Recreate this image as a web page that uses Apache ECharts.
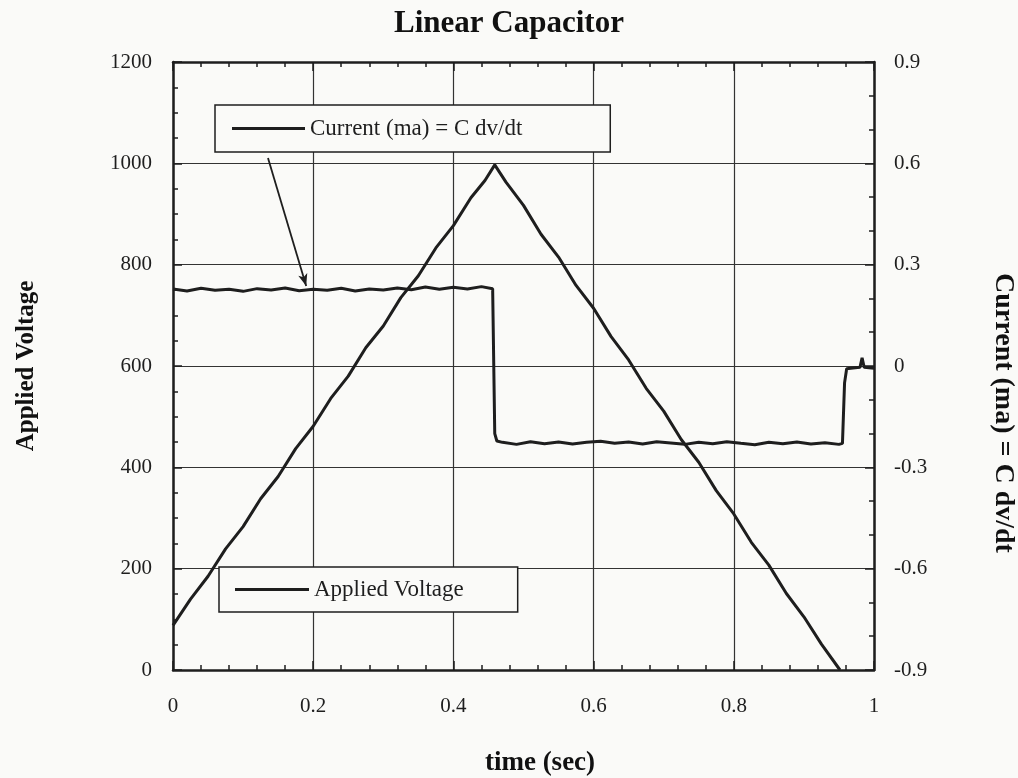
<!DOCTYPE html>
<html>
<head>
<meta charset="utf-8">
<script src="https://cdn.jsdelivr.net/npm/echarts@6/dist/echarts.min.js"></script>
<style>
  html, body { margin: 0; padding: 0; background: #fafaf8; }
  #chart-container { width: 1018px; height: 778px; }
</style>
</head>
<body>
<div id="chart-container"></div>
<script>
const chartDom = document.getElementById('chart-container');
const myChart = echarts.init(chartDom);

// applied voltage (left axis)
const voltageTime = [0, 0.025, 0.05, 0.075, 0.1, 0.125, 0.15, 0.175, 0.2, 0.225, 0.25, 0.275, 0.3, 0.325,
    0.35, 0.375, 0.4, 0.425, 0.445, 0.459, 0.475, 0.5, 0.525, 0.55, 0.575, 0.6, 0.625, 0.65, 0.675,
    0.7, 0.725, 0.75, 0.775, 0.8, 0.825, 0.85, 0.875, 0.9, 0.925, 0.9515];
const voltageValue = [88, 140, 185, 239, 283, 338, 382, 437, 481, 536, 580, 636, 679, 735,
    778, 833, 877, 932, 966, 997, 963, 917, 860, 815, 759, 714, 658, 612, 556,
    511, 455, 410, 354, 308, 252, 207, 151, 105, 51, 0];

// current (right axis)
const currentTime = [0, 0.02, 0.04, 0.06, 0.08, 0.10, 0.12, 0.14, 0.16, 0.18, 0.20, 0.22, 0.24, 0.26,
    0.28, 0.30, 0.32, 0.34, 0.36, 0.38, 0.40, 0.42, 0.44, 0.456, 0.459, 0.462,
    0.47, 0.49, 0.51, 0.53, 0.55, 0.57, 0.59, 0.61, 0.63, 0.65, 0.67, 0.69, 0.71, 0.73, 0.75,
    0.77, 0.79, 0.81, 0.83, 0.85, 0.87, 0.89, 0.91, 0.93, 0.95, 0.955, 0.958, 0.961,
    0.97, 0.98, 0.983, 0.986, 1.0];
const currentValue = [0.228, 0.222, 0.230, 0.224, 0.227, 0.221, 0.229, 0.225, 0.231, 0.223, 0.227, 0.224, 0.230, 0.222,
    0.228, 0.225, 0.231, 0.226, 0.234, 0.227, 0.233, 0.228, 0.235, 0.229, -0.200, -0.222,
    -0.226, -0.232, -0.224, -0.230, -0.225, -0.231, -0.226, -0.223, -0.229, -0.225, -0.231, -0.224, -0.228, -0.232, -0.226,
    -0.230, -0.224, -0.229, -0.233, -0.226, -0.230, -0.225, -0.231, -0.227, -0.232, -0.229, -0.050, -0.008,
    -0.006, -0.004, 0.024, -0.004, -0.007];

// arrow from legend box down to the current trace (data coords)
const arrowFrom = [0.1355, 0.616];
const arrowTo = [0.19, 0.237];

const serif = '"Liberation Serif", "DejaVu Serif", serif';
const ink = '#1e1e1e';

function pairs(xs, ys) {
    return xs.map((x, i) => [x, ys[i]]);
}

const tickLabel = { fontFamily: serif, fontSize: 21, color: ink };
const legendIcon = 'path://M0,0 L100,0 L100,4 L0,4 Z';

const option = {
    backgroundColor: '#fafaf8',
    animation: false,
    title: {
        text: 'Linear Capacitor',
        left: 'center',
        top: 3,
        textStyle: { fontFamily: serif, fontSize: 31, fontWeight: 'bold', color: '#111' }
    },
    grid: { left: 173, right: 144, top: 62, bottom: 108 },
    legend: [
        {
            data: ['Current (ma) = C dv/dt'],
            left: 215, top: 105,
            padding: [12, 88, 12, 17],
            icon: legendIcon,
            itemWidth: 73, itemHeight: 3,
            borderColor: ink, borderWidth: 1.5,
            backgroundColor: '#fafaf8',
            textStyle: { fontFamily: serif, fontSize: 23, color: ink, lineHeight: 22 }
        },
        {
            data: ['Applied Voltage'],
            left: 219, top: 567,
            padding: [11, 54, 11, 16],
            icon: legendIcon,
            itemWidth: 74, itemHeight: 3,
            borderColor: ink, borderWidth: 1.5,
            backgroundColor: '#fafaf8',
            textStyle: { fontFamily: serif, fontSize: 23, color: ink, lineHeight: 22 }
        }
    ],
    xAxis: [
        {
            type: 'value', position: 'bottom',
            min: 0, max: 1, interval: 0.2,
            axisLine: { onZero: false, lineStyle: { color: ink, width: 2.5 } },
            axisTick: { inside: true, length: 9, lineStyle: { color: ink, width: 1.5 } },
            minorTick: { show: true, splitNumber: 5, length: 5, lineStyle: { color: ink, width: 1.5 } },
            splitLine: { show: true, lineStyle: { color: '#333', width: 1.2 } },
            axisLabel: Object.assign({ margin: 26 }, tickLabel)
        },
        {
            type: 'value', position: 'top',
            min: 0, max: 1, interval: 0.2,
            axisLine: { onZero: false, lineStyle: { color: ink, width: 2.5 } },
            axisTick: { inside: true, length: 9, lineStyle: { color: ink, width: 1.5 } },
            minorTick: { show: true, splitNumber: 5, length: 5, lineStyle: { color: ink, width: 1.5 } },
            splitLine: { show: false },
            axisLabel: { show: false }
        }
    ],
    yAxis: [
        {
            type: 'value', position: 'left',
            min: 0, max: 1200, interval: 200,
            axisLine: { show: true, onZero: false, lineStyle: { color: ink, width: 2.5 } },
            axisTick: { show: true, inside: true, length: 9, lineStyle: { color: ink, width: 1.5 } },
            minorTick: { show: true, splitNumber: 4, length: 5, lineStyle: { color: ink, width: 1.5 } },
            splitLine: { show: true, lineStyle: { color: '#333', width: 1.2 } },
            axisLabel: Object.assign({ margin: 21, formatter: v => String(v) }, tickLabel)
        },
        {
            type: 'value', position: 'right',
            min: -0.9, max: 0.9, interval: 0.3,
            axisLine: { show: true, onZero: false, lineStyle: { color: ink, width: 2.5 } },
            axisTick: { show: true, inside: true, length: 9, lineStyle: { color: ink, width: 1.5 } },
            minorTick: { show: true, splitNumber: 3, length: 5, lineStyle: { color: ink, width: 1.5 } },
            splitLine: { show: false },
            axisLabel: Object.assign({ margin: 20, formatter: v => String(Math.round(v * 10) / 10) }, tickLabel)
        }
    ],
    series: [
        {
            name: 'Applied Voltage',
            type: 'line',
            xAxisIndex: 0, yAxisIndex: 0,
            data: pairs(voltageTime, voltageValue),
            symbol: 'none',
            lineStyle: { color: ink, width: 3 },
            itemStyle: { color: ink },
            z: 3
        },
        {
            name: 'Current (ma) = C dv/dt',
            type: 'line',
            xAxisIndex: 0, yAxisIndex: 1,
            data: pairs(currentTime, currentValue),
            symbol: 'none',
            lineStyle: { color: ink, width: 3 },
            itemStyle: { color: ink },
            z: 3,
            markLine: {
                silent: true,
                symbol: ['none', 'arrow'],
                symbolSize: [7, 12],
                label: { show: false },
                lineStyle: { color: ink, width: 1.8, type: 'solid' },
                data: [[{ coord: arrowFrom }, { coord: arrowTo }]]
            }
        }
    ],
    graphic: {
        elements: [
            {
                type: 'text', x: 27, y: 366, rotation: Math.PI / 2,
                style: { text: 'Applied Voltage', font: 'bold 25px ' + serif, fill: '#111', align: 'center', verticalAlign: 'middle' }
            },
            {
                type: 'text', x: 1003, y: 413, rotation: -Math.PI / 2,
                style: { text: 'Current (ma) = C dv/dt', font: 'bold 28px ' + serif, fill: '#111', align: 'center', verticalAlign: 'middle' }
            },
            {
                type: 'text', x: 540, y: 763,
                style: { text: 'time (sec)', font: 'bold 27px ' + serif, fill: '#111', align: 'center', verticalAlign: 'middle' }
            }
        ]
    }
};

myChart.setOption(option);
window.addEventListener('resize', () => myChart.resize());
</script>
</body>
</html>
